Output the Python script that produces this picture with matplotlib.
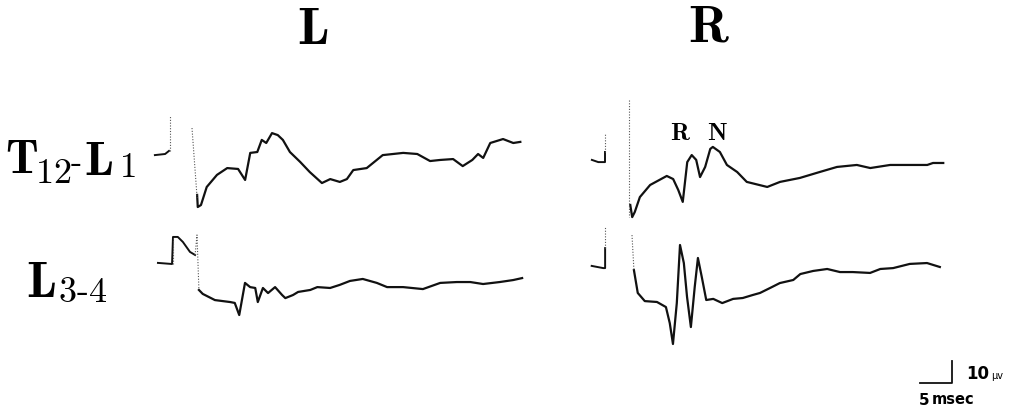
'''
Spinal evoked potentials recorded at T12-L1 and L3-4, left vs right stimulation.
'''
import numpy as np
import matplotlib
matplotlib.use('Agg')
import matplotlib.pyplot as plt

plt.rcParams['mathtext.fontset'] = 'cm'

# scale of the record (pixels on the page per unit)
PX_MS = 6.4   # 5 msec bar = 32 px
PX_UV = 2.2   # 10 uV bar = 22 px

# ---- traces: time after stimulus [ms], amplitude [uV] ----
# T12-L1, left
t_tl = [0.8, 0.9, 1.4, 2.3, 3.9, 5.5, 7.2, 8.3, 9.1, 10.2, 10.9, 11.6, 12.5, 13.4, 14.2,
        15.3, 16.9, 18.4, 20.3, 21.6, 23.1, 24.2, 25.2, 27.3, 29.8, 33.0, 35.2, 37.2,
        38.8, 40.8, 42.3, 43.8, 44.7, 45.5, 46.6, 48.6, 50.2, 51.3]
v_tl = [-18.6, -24.1, -23.2, -15.0, -9.5, -6.4, -6.8, -11.8, 0.5, 0.9, 6.4, 5.0, 9.5, 8.6, 6.4,
        0.9, -3.6, -8.2, -13.2, -11.4, -12.7, -11.4, -7.3, -6.4, -0.5, 0.5, 0.0, -3.2,
        -2.7, -2.3, -5.5, -2.7, 0.0, -1.8, 5.0, 6.8, 5.0, 5.5]

# T12-L1, right
t_tr = [0.2, 0.5, 0.9, 1.7, 3.3, 5.9, 6.9, 7.7, 8.4, 9.1, 9.8, 10.5, 11.1, 11.9, 12.7, 13.1,
        14.2, 15.3, 16.9, 18.4, 21.6, 23.6, 26.7, 29.8, 32.5, 35.6, 37.7, 40.8, 43.9,
        46.6, 47.5, 49.1]
v_tr = [-20.0, -25.5, -23.2, -16.4, -10.9, -6.8, -8.2, -13.2, -18.6, -0.5, 2.7, 0.5, -7.3,
        -2.7, 5.5, 6.4, 4.1, -1.8, -5.0, -9.5, -11.8, -9.5, -7.7, -5.0, -2.7, -1.8, -3.2,
        -1.8, -1.8, -1.8, -0.9, -0.9]

# L3-4, left
t_ll = [0.3, 0.9, 2.8, 5.2, 5.9, 6.6, 7.5, 8.3, 9.1, 9.5, 10.3, 11.1, 12.2, 13.3, 13.8,
        15.0, 15.8, 17.7, 18.8, 20.8, 22.3, 23.9, 25.9, 28.1, 29.7, 32.2, 35.3, 38.0,
        40.6, 42.7, 44.7, 47.3, 49.4, 50.8]
v_ll = [-11.8, -13.6, -16.4, -17.3, -17.7, -23.2, -8.6, -10.5, -10.9, -17.3, -10.9, -13.2,
        -10.5, -14.1, -15.5, -14.1, -12.7, -11.8, -10.5, -10.9, -9.5, -7.7, -6.8, -8.6,
        -10.5, -10.5, -11.4, -8.6, -8.2, -8.2, -9.1, -8.2, -7.3, -6.4]

# L3-4, right
t_lr = [0.3, 0.9, 2.0, 3.9, 5.3, 5.9, 6.4, 7.0, 7.5, 8.1, 8.6, 9.2, 9.8, 10.3, 10.9, 11.6,
        12.7, 14.1, 15.8, 17.3, 18.9, 20.0, 21.6, 23.1, 25.2, 26.3, 28.3, 30.5, 32.5,
        34.5, 37.2, 38.8, 40.8, 43.4, 46.1, 48.1]
v_lr = [-1.4, -11.8, -15.5, -15.9, -18.2, -25.5, -35.0, -16.4, 10.0, 1.8, -13.6, -27.3,
        -9.1, 4.1, -4.5, -15.0, -14.5, -16.4, -14.5, -14.1, -12.7, -11.8, -9.5, -7.3,
        -5.9, -3.2, -1.8, -0.9, -2.3, -2.3, -2.7, -0.9, -0.5, 1.4, 1.8, 0.0]

# pre-stimulus baseline + calibration pulse of each sweep
pre_tl = ([-5.8, -4.2, -3.6], [-0.5, 0.0, 1.4])
pre_tr = ([-5.8, -4.8, -4.1, -3.75, -3.75], [0.5, -0.5, -0.5, -0.5, 4.1])
pre_ll = ([-6.1, -3.9, -3.75, -3.0, -2.2, -1.1, -0.3], [0.5, 0.0, 12.3, 12.3, 10.0, 5.5, 4.1])
pre_lr = ([-6.3, -4.5, -4.2, -4.2], [0.5, -0.5, -0.5, 8.6])

# dotted artefact strokes (calibration tail, stimulus artefact)
art_tl = [([-3.4, -3.4], [1.4, 17.7]), ([0.0, 0.8], [11.8, -20.0])]
art_tr = [([-3.75, -3.75], [4.1, 12.7]), ([0.0, 0.0], [27.7, -25.5])]
art_ll = [([-3.75, -3.75], [0.0, 12.3]), ([-0.3, 0.0, 0.3], [4.1, 13.2, -11.8])]
art_lr = [([-4.2, -4.2], [8.6, 18.2]), ([0.0, 0.3], [14.5, -1.4])]

# sweep origins on the page (pixels: x of stimulus, y of baseline)
origins = {'tl': (192, 154), 'tr': (629, 161), 'll': (197, 264), 'lr': (632, 267)}

W, H = 1028, 416
fig = plt.figure(figsize=(W / 100, H / 100), dpi=100)
ax = fig.add_axes([0, 0, 1, 1])
ax.set_xlim(0, W / PX_MS)
ax.set_ylim(-H / PX_UV, 0)
ax.axis('off')


def place(t, v, key):
    x0, y0 = origins[key]
    return np.asarray(t) + x0 / PX_MS, np.asarray(v) - y0 / PX_UV


sweeps = {'tl': (t_tl, v_tl, pre_tl, art_tl), 'tr': (t_tr, v_tr, pre_tr, art_tr),
          'll': (t_ll, v_ll, pre_ll, art_ll), 'lr': (t_lr, v_lr, pre_lr, art_lr)}

for key, (t, v, pre, arts) in sweeps.items():
    x, y = place(t, v, key)
    ax.plot(x, y, color='#111111', lw=1.6, solid_joinstyle='round')
    x, y = place(pre[0], pre[1], key)
    ax.plot(x, y, color='#111111', lw=1.4)
    for at, av in arts:
        x, y = place(at, av, key)
        ax.plot(x, y, color='#555555', lw=0.8, ls=(0, (1, 1.5)))

# scale bar: 5 msec x 10 uV
sx, sy = 920 / PX_MS, -383 / PX_UV
ax.plot([sx, sx + 5, sx + 5], [sy, sy, sy + 10], color='#111111', lw=1.3)


def ftext(x, y, s, **kw):
    fig.text(x / W, 1 - y / H, s, **kw)


# column titles
ftext(313, 44, r'$\mathbf{L}$', fontsize=38, ha='center', va='baseline')
ftext(709, 41, r'$\mathbf{R}$', fontsize=38, ha='center', va='baseline')

# row labels
ftext(5, 173, r'$\mathbf{T}$', fontsize=34, ha='left', va='baseline')
ftext(35, 183, r'$\mathrm{12}$', fontsize=26, ha='left', va='baseline')
ftext(70, 170, r'$\text{-}$', fontsize=24, ha='left', va='baseline')
ftext(84, 175, r'$\mathbf{L}$', fontsize=35, ha='left', va='baseline')
ftext(119, 177, r'$\mathrm{1}$', fontsize=25, ha='left', va='baseline')

ftext(26, 297, r'$\mathbf{L}$', fontsize=36, ha='left', va='baseline')
ftext(58, 302, r'$\mathrm{3\text{-}4}$', fontsize=26, ha='left', va='baseline')

# component labels
ftext(680, 140, r'$\mathbf{R}$', fontsize=18, ha='center', va='baseline')
ftext(717, 140, r'$\mathbf{N}$', fontsize=18, ha='center', va='baseline')

# scale bar labels
ftext(966, 379, '10', fontsize=12, fontweight='bold', ha='left', va='baseline')
ftext(991, 379, 'µv', fontsize=7, ha='left', va='baseline')
ftext(919, 405, '5', fontsize=11, fontweight='bold', ha='left', va='baseline')
ftext(932, 404, 'msec', fontsize=10.5, fontweight='bold', ha='left', va='baseline')

fig.savefig('out.png', dpi=100, facecolor='white')
